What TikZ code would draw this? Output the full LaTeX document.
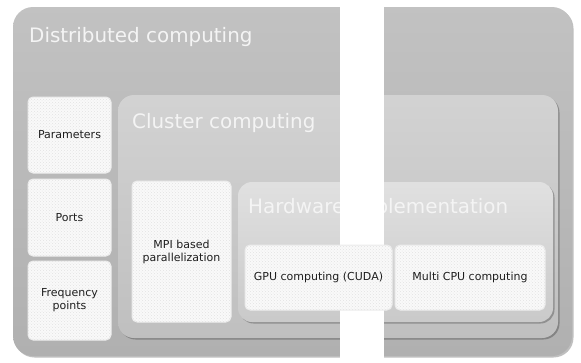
\documentclass[tikz,border=0pt]{standalone}
\usepackage{fontspec}
\setmainfont{DejaVu Sans}
\usetikzlibrary{shadows,patterns}
\definecolor{titletext}{HTML}{F4F4F4}
\definecolor{bodytext}{HTML}{1E1E1E}
\tikzset{
  container/.style={rounded corners=#1, inner sep=0pt, draw=none,
    drop shadow={shadow xshift=1.5pt, shadow yshift=-1.5pt, opacity=0.25, fill=black}},
  outerbox/.style={container=20pt, top color=gray!48, bottom color=gray!62},
  clusterbox/.style={container=16pt, top color=gray!35, bottom color=gray!50},
  hwbox/.style={container=14pt, top color=gray!24, bottom color=gray!42},
  leafbox/.style={rounded corners=5pt, draw=gray!15, line width=1pt, fill=gray!5,
    postaction={pattern=crosshatch dots, pattern color=gray!22},
    inner sep=2pt, align=center, text=bodytext, font=\fontsize{11}{13}\selectfont},
  bigtitle/.style={anchor=base west, inner sep=0pt, text=titletext, font=\fontsize{19.9}{22}\selectfont},
}
\begin{document}
\begin{tikzpicture}[x=1pt,y=-1pt]
\useasboundingbox[fill=white] (0,0) rectangle (581,362);
% outer container
\node[outerbox, minimum width=559pt, minimum height=349pt] (outer) at (292.5,181.5) {};
\node[bigtitle] (tdist) at (29,42) {Distributed computing};
% left column
\node[leafbox, minimum width=83pt, minimum height=76pt] (params) at (69.5,135) {Parameters};
\node[leafbox, minimum width=83pt, minimum height=77pt] (ports) at (69.5,217.5) {Ports};
\node[leafbox, minimum width=83pt, minimum height=79pt] (freq) at (69.5,300.5) {Frequency\\points};
% cluster
\node[clusterbox, minimum width=440pt, minimum height=243pt] (cluster) at (338,216.5) {};
\node[bigtitle] (tclus) at (132,128) {Cluster computing};
\node[leafbox, minimum width=99pt, minimum height=141pt] (mpi) at (181.5,251.5) {MPI based\\parallelization};
% hardware
\node[hwbox, minimum width=315pt, minimum height=140pt] (hw) at (395.5,252) {};
\node[bigtitle] (thw) at (248,213) {Hardware implementation};
% white band
\fill[white] (340,0) rectangle (384,362);
\node[leafbox, minimum width=147pt, minimum height=65pt] (gpu) at (318.5,277.5) {GPU computing (CUDA)};
\node[leafbox, minimum width=150pt, minimum height=65pt] (cpu) at (470,277.5) {Multi CPU computing};
\end{tikzpicture}
\end{document}
